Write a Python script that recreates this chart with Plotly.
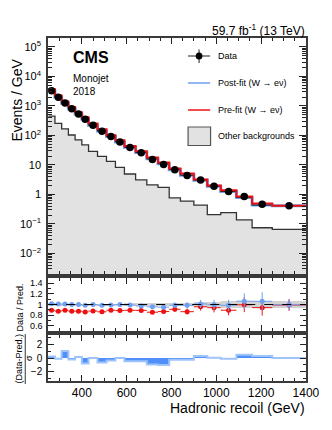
import numpy as np
import plotly.graph_objects as go

# hadronic recoil binning (GeV)
edges = [250, 280, 310, 340, 370, 400, 430, 470, 510, 550, 590, 640, 690,
         740, 790, 840, 900, 960, 1020, 1090, 1160, 1250, 1400]

# events / GeV
data = [3260, 1980, 1243, 805, 529, 351, 220, 138, 91, 60, 39, 25.6, 15.3,
        10.4, 6.8, 4.4, 3.07, 1.88, 1.24, 0.84, 0.46, 0.41]
data_relerr = [0.003, 0.004, 0.005, 0.0065, 0.008, 0.01, 0.011, 0.0135, 0.017, 0.02,
               0.023, 0.028, 0.036, 0.044, 0.054, 0.062, 0.074, 0.094, 0.107, 0.14,
               0.16, 0.11]
postfit = [3212, 1960, 1231, 805, 529, 356, 220, 140, 91.9, 60, 39.4, 26.3, 16.0,
           10.95, 6.9, 4.47, 3.04, 1.89, 1.26, 0.79, 0.434, 0.412]
prefit = [3663, 2263, 1397, 920, 605, 408, 251, 160, 102, 67.8, 43.8, 28.8, 17.9,
          12.0, 7.47, 5.09, 3.21, 2.0, 1.39, 0.844, 0.489, 0.414]
other_bkg = [453, 257, 165, 103, 70, 47.5, 28.5, 19.3, 13.1, 8.2, 4.9, 3.1, 2.1,
             1.74, 0.76, 0.59, 0.43, 0.207, 0.24, 0.137, 0.074, 0.065]
postfit_unc = [0.01, 0.01, 0.01, 0.01, 0.012, 0.012, 0.014, 0.014, 0.016, 0.018, 0.02,
               0.022, 0.025, 0.028, 0.03, 0.035, 0.04, 0.045, 0.06, 0.065, 0.07, 0.07]
pull = [0.23, -0.1, 1.0, -0.2, 0.15, -0.8, 0.0, -0.65, -0.35, 0.0, -0.45, -0.45,
        -0.95, -1.0, -0.25, -0.25, 0.3, 0.05, -0.1, 0.45, 0.3, 0.0]

e = np.array(edges, dtype=float)
centers = (e[1:] + e[:-1]) / 2
widths = e[1:] - e[:-1]
d = np.array(data)
ratio_post = d / np.array(postfit)
ratio_pre = d / np.array(prefit)
relerr = np.array(data_relerr)
unc = np.array(postfit_unc)


def step(vals):
    return list(vals) + [vals[-1]]


BLUE = "#6f9ff0"
RED = "#ee1111"
PULLBLUE = "#4f8ff7"

fig = go.Figure()

# main panel
fig.add_trace(go.Bar(x=centers, y=other_bkg, width=widths, marker=dict(color="#e2e2e2", line_width=0),
                     xaxis="x", yaxis="y"))
fig.add_trace(go.Scatter(x=edges, y=step(other_bkg), mode="lines", line=dict(color="#333333", width=1.3, shape="hv"),
                         xaxis="x", yaxis="y"))
fig.add_trace(go.Scatter(x=edges, y=step(postfit), mode="lines", line=dict(color=BLUE, width=3, shape="hv"),
                         xaxis="x", yaxis="y"))
fig.add_trace(go.Scatter(x=edges, y=step(postfit), mode="lines", line=dict(color="#111111", width=1, shape="hv"),
                         xaxis="x", yaxis="y"))
fig.add_trace(go.Scatter(x=edges, y=step(prefit), mode="lines", line=dict(color=RED, width=2, shape="hv"),
                         xaxis="x", yaxis="y"))
fig.add_trace(go.Scatter(x=centers, y=data, mode="markers", marker=dict(color="black", size=7.5),
                         error_y=dict(type="data", array=d * relerr, color="black", thickness=1, width=0),
                         xaxis="x", yaxis="y"))

# ratio panel
fig.add_trace(go.Bar(x=centers, y=2 * unc, base=1 - unc, width=widths,
                     marker=dict(color="#d2d2d2", line_width=0), xaxis="x2", yaxis="y2"))
fig.add_trace(go.Scatter(x=centers, y=ratio_pre, mode="markers", marker=dict(color=RED, size=5),
                         error_y=dict(type="data", array=ratio_pre * relerr, color=RED, thickness=1, width=0),
                         error_x=dict(type="data", array=widths / 2, color=RED, thickness=1, width=0),
                         xaxis="x2", yaxis="y2"))
fig.add_trace(go.Scatter(x=centers, y=ratio_post, mode="markers", marker=dict(color=BLUE, size=5),
                         error_y=dict(type="data", array=ratio_post * relerr, color=BLUE, thickness=1, width=0),
                         error_x=dict(type="data", array=widths / 2, color=BLUE, thickness=1, width=0),
                         xaxis="x2", yaxis="y2"))

# pull panel
fig.add_trace(go.Bar(x=centers, y=pull, width=widths, marker=dict(color=PULLBLUE, line_width=0),
                     xaxis="x3", yaxis="y3"))
fig.add_trace(go.Scatter(x=edges, y=step(pull), mode="lines", line=dict(color="#9fc3fb", width=2, shape="hv"),
                         xaxis="x3", yaxis="y3"))

W, H = 332, 430
def px(v):
    return v / W
def py(v):
    return 1 - v / H

xdom = [px(42), px(311)]
frame = dict(showline=True, linecolor="#3a3a3a", linewidth=2, mirror="allticks", ticks="inside",
             tickcolor="#222222", showgrid=False, zeroline=False)
xcommon = dict(frame, range=[250, 1400], tick0=0, dtick=200, ticklen=6, domain=xdom,
               minor=dict(ticks="inside", ticklen=3, dtick=50, tickcolor="#222222"))
minor_log = [m * 10.0 ** k for k in range(-3, 6) for m in range(2, 10)]
ytick_main = [1e-2, 1e-1, 1, 10, 1e2, 1e3, 1e4, 1e5]
ytext_main = ["10<sup>−2</sup>", "10<sup>−1</sup>", "1", "10", "10<sup>2</sup>",
              "10<sup>3</sup>", "10<sup>4</sup>", "10<sup>5</sup>"]

fig.update_layout(
    width=W, height=H, margin=dict(l=0, r=0, t=0, b=0),
    paper_bgcolor="white", plot_bgcolor="white", showlegend=False, barmode="overlay", bargap=0,
    font=dict(family="Liberation Sans, Arial, sans-serif", color="black"),
    xaxis=dict(xcommon, anchor="y", showticklabels=False),
    yaxis=dict(frame, type="log", domain=[py(266), py(30)], range=[np.log10(2e-3), np.log10(2e5)],
               tickmode="array", tickvals=ytick_main, ticktext=ytext_main, ticklen=7,
               tickfont=dict(size=11), ticklabelstandoff=3,
               minor=dict(ticks="inside", ticklen=3.5, tickmode="array", tickvals=minor_log, tickcolor="#222222")),
    xaxis2=dict(xcommon, anchor="y2", showticklabels=False),
    yaxis2=dict(frame, domain=[py(323), py(270)], range=[0.5, 1.5], tickmode="array",
                tickvals=[0.6, 0.8, 1, 1.2, 1.4], ticktext=["0.6", "0.8", "1", "1.2", "1.4"],
                ticklen=6, tickfont=dict(size=9), ticklabelstandoff=2,
                minor=dict(ticks="inside", ticklen=3, dtick=0.1, tickcolor="#222222")),
    xaxis3=dict(xcommon, anchor="y3", showticklabels=True, tickfont=dict(size=12),
                ticklabelstandoff=0),
    yaxis3=dict(frame, domain=[py(373), py(327)], range=[-3.3, 3.3], tickmode="array",
                tickvals=[-2, 0, 2], ticktext=["−2", "0", "2"], ticklen=6, tickfont=dict(size=10),
                ticklabelstandoff=2, minor=dict(ticks="inside", ticklen=3, dtick=1, tickcolor="#222222")),
)

# dashed line at 1 in ratio panel
fig.add_shape(type="line", xref="x2", yref="y2", x0=250, x1=1400, y0=1, y1=1,
              line=dict(color="black", width=1, dash="dash"))

ann = []
def text(x, y, s, size, **kw):
    ann.append(dict(x=px(x), y=py(y), xref="paper", yref="paper", text=s, showarrow=False,
                    font=dict(size=size, color="black"), **kw))

text(312, 22, "59.7 fb<sup>-1</sup> (13 TeV)", 12, xanchor="right", yanchor="middle")
text(66, 50, "<b>CMS</b>", 16, xanchor="left", yanchor="middle")
text(66, 70, "Monojet", 10, xanchor="left", yanchor="middle")
text(66, 83, "2018", 10, xanchor="left", yanchor="middle")
text(9, 92, "Events / GeV", 14, xanchor="center", yanchor="middle", textangle=-90)
text(13, 299, "Data / Pred.", 9, xanchor="center", yanchor="middle", textangle=-90)
text(12, 350, "(Data-Pred.)", 9, xanchor="center", yanchor="middle", textangle=-90)
text(22, 350, "σ", 9, xanchor="center", yanchor="middle", textangle=-90)
text(312, 400, "Hadronic recoil (GeV)", 14, xanchor="right", yanchor="middle")

# legend
text(217, 48, "Data", 9, xanchor="left", yanchor="middle")
text(217, 75, "Post-fit (W → eν)", 9, xanchor="left", yanchor="middle")
text(217, 102, "Pre-fit (W → eν)", 9, xanchor="left", yanchor="middle")
text(217, 128, "Other backgrounds", 9, xanchor="left", yanchor="middle")
fig.update_layout(annotations=ann)

fig.add_shape(type="line", xref="paper", yref="paper", x0=px(18), x1=px(18), y0=py(326), y1=py(376),
              line=dict(color="black", width=0.8))
fig.add_shape(type="line", xref="paper", yref="paper", x0=px(188), x1=px(211), y0=py(48), y1=py(48),
              line=dict(color="#444444", width=1.2))
fig.add_shape(type="line", xref="paper", yref="paper", x0=px(199.5), x1=px(199.5), y0=py(41.5), y1=py(55),
              line=dict(color="#444444", width=1.2))
fig.add_shape(type="circle", xref="paper", yref="paper", x0=px(196), x1=px(203), y0=py(44.5), y1=py(51.5),
              fillcolor="black", line=dict(color="black", width=0))
fig.add_shape(type="line", xref="paper", yref="paper", x0=px(188), x1=px(211), y0=py(75), y1=py(75),
              line=dict(color=BLUE, width=1.5))
fig.add_shape(type="line", xref="paper", yref="paper", x0=px(188), x1=px(211), y0=py(102), y1=py(102),
              line=dict(color=RED, width=1.5))
fig.add_shape(type="rect", xref="paper", yref="paper", x0=px(188), x1=px(211.5), y0=py(119), y1=py(137.5),
              fillcolor="#e2e2e2", line=dict(color="#555555", width=1.2))

fig.write_html("out.html")
